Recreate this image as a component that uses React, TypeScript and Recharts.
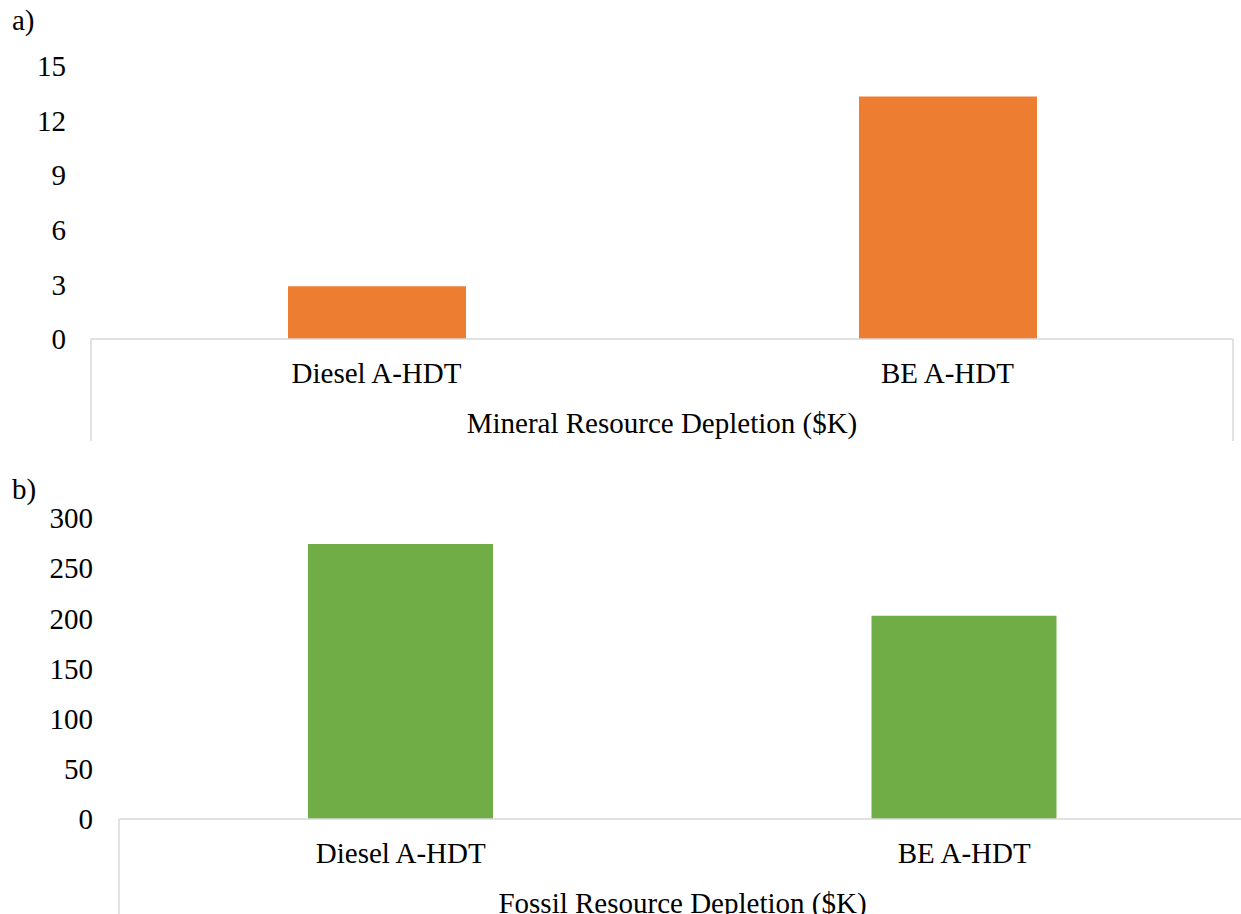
import React from 'react';
import { BarChart, Bar, XAxis, YAxis, Label } from 'recharts';

const categories = ['Diesel A-HDT', 'BE A-HDT'];
const mineralValues = [2.9, 13.32];
const fossilValues = [274, 202.5];
const mineralTicks = [0, 3, 6, 9, 12, 15];
const fossilTicks = [0, 50, 100, 150, 200, 250, 300];
const mineralTitle = 'Mineral Resource Depletion ($K)';
const fossilTitle = 'Fossil Resource Depletion ($K)';

const mineralData = categories.map((c, i) => ({ name: c, value: mineralValues[i] }));
const fossilData = categories.map((c, i) => ({ name: c, value: fossilValues[i] }));

const FONT = '"Liberation Serif", "Times New Roman", serif';
const FS = 29;
const GRID = '#d9d9d9';

const makeTick = (boxDepth: number) => (props: any) => {
  const { x, y, payload, index, visibleTicksCount, width } = props;
  const half = payload && payload.offset != null ? payload.offset : width / visibleTicksCount / 2;
  return (
    <g>
      <text x={x} y={y + 44} textAnchor="middle" fontFamily={FONT} fontSize={FS} fill="#000">
        {payload.value}
      </text>
      {index === 0 && (
        <line x1={x - half} x2={x - half} y1={y} y2={y + boxDepth} stroke={GRID} strokeWidth={1.5} />
      )}
      {index === visibleTicksCount - 1 && (
        <line x1={x + half} x2={x + half} y1={y} y2={y + boxDepth} stroke={GRID} strokeWidth={1.5} />
      )}
    </g>
  );
};

const titleContent = (text: string, dy: number) => (props: any) => {
  const vb = props.viewBox || {};
  return (
    <text x={vb.x + vb.width / 2} y={vb.y + dy} textAnchor="middle" fontFamily={FONT} fontSize={FS} fill="#000">
      {text}
    </text>
  );
};

const yTickStyle = { fontFamily: FONT, fontSize: FS, fill: '#000' };

export default function App() {
  return (
    <div style={{ position: 'absolute', left: 0, top: 0, width: 1241, height: 914, overflow: 'hidden', background: '#fff' }}>
      <svg width={60} height={40} style={{ position: 'absolute', left: 0, top: 0 }}>
        <text x={12} y={30} fontFamily={FONT} fontSize={FS} fill="#000">a)</text>
      </svg>
      <div style={{ position: 'absolute', left: 0, top: 0 }}>
        <BarChart width={1241} height={445} data={mineralData} margin={{ top: 66, right: 8, left: 0, bottom: 0 }}>
          <XAxis
            dataKey="name"
            height={106}
            axisLine={{ stroke: GRID, strokeWidth: 1.5 }}
            tickLine={false}
            tickSize={0}
            tickMargin={0}
            tick={makeTick(102)}
            interval={0}
          >
            <Label content={titleContent(mineralTitle, 94)} />
          </XAxis>
          <YAxis
            domain={[0, 15]}
            ticks={mineralTicks}
            width={91}
            axisLine={false}
            tickLine={false}
            tickSize={0}
            tickMargin={25}
            tick={yTickStyle}
            interval={0}
          />
          <Bar dataKey="value" fill="#ED7D31" barSize={178} isAnimationActive={false} />
        </BarChart>
      </div>
      <svg width={60} height={40} style={{ position: 'absolute', left: 0, top: 470 }}>
        <text x={12} y={29} fontFamily={FONT} fontSize={FS} fill="#000">b)</text>
      </svg>
      <div style={{ position: 'absolute', left: 0, top: 446 }}>
        <BarChart width={1246} height={468} data={fossilData} margin={{ top: 72, right: 0, left: 0, bottom: 0 }}>
          <XAxis
            dataKey="name"
            height={95}
            axisLine={{ stroke: GRID, strokeWidth: 1.5 }}
            tickLine={false}
            tickSize={0}
            tickMargin={0}
            tick={makeTick(100)}
            interval={0}
          >
            <Label content={titleContent(fossilTitle, 94)} />
          </XAxis>
          <YAxis
            domain={[0, 300]}
            ticks={fossilTicks}
            width={119}
            axisLine={false}
            tickLine={false}
            tickSize={0}
            tickMargin={26}
            tick={yTickStyle}
            interval={0}
          />
          <Bar dataKey="value" fill="#70AD47" barSize={185} isAnimationActive={false} />
        </BarChart>
      </div>
    </div>
  );
}
